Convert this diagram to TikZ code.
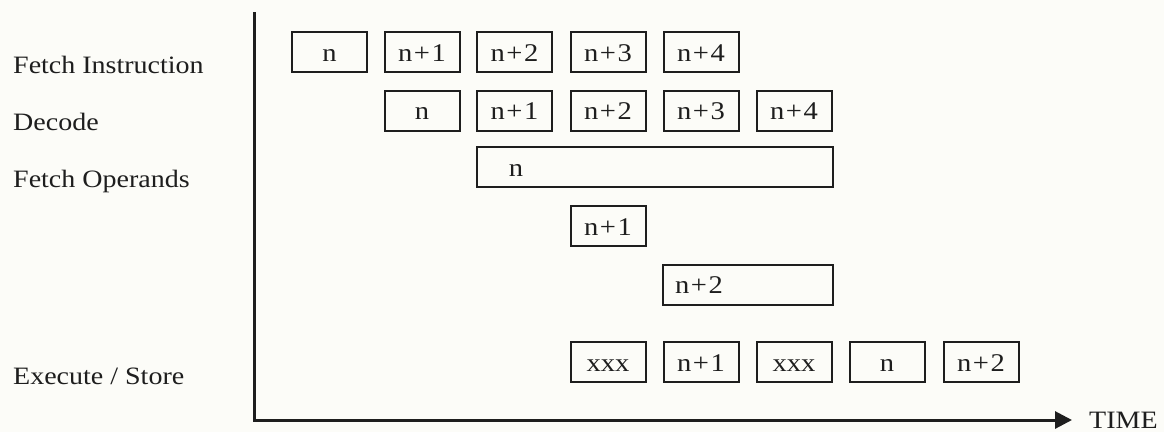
\documentclass[tikz,border=0pt]{standalone}
\usepackage{fontspec}
\setmainfont[FakeStretch=1.12]{Liberation Serif}
\usetikzlibrary{arrows.meta}
\definecolor{ink}{HTML}{1E1E1E}
\definecolor{paper}{HTML}{FCFCF8}
\newcommand{\plus}{\kern1.5pt+\kern1.5pt}
\tikzset{
  lbl/.style={anchor=base west, inner sep=0pt, text=ink, font=\fontsize{25}{28}\selectfont},
  slot/.style={draw=ink, line width=2pt, minimum width=75pt, minimum height=40pt, inner sep=0pt,
    text height=18pt, text depth=0pt, text=ink, font=\fontsize{25.5}{28}\selectfont},
  slottxt/.style={anchor=base, inner sep=0pt, text=ink, font=\fontsize{25.5}{28}\selectfont},
  axisline/.style={draw=ink, line width=3pt},
}
\begin{document}
\begin{tikzpicture}[x=1pt,y=-1pt]
\fill[paper] (0,0) rectangle (1164,432);
\useasboundingbox (0,0) rectangle (1164,432);
% stage labels
\node[lbl] (lfi) at (13,73) {Fetch Instruction};
\node[lbl] (ldc) at (13,130) {Decode};
\node[lbl] (lfo) at (13,187) {Fetch Operands};
\node[lbl] (lex) at (13,384) {Execute / Store};
% axes
\coordinate (ytop) at (254,12);
\coordinate (orig) at (254,420);
\coordinate (tip) at (1072,420);
\draw[axisline, -{Triangle[length=17pt,width=17pt]}] (ytop) -- (orig) -- (tip);
\node[lbl] (time) at (1089,428) {TIME};
% row 1: fetch instruction
\node[slot] (fi0) at (329.5,52) {n};
\node[slot] (fi1) at (422,52) {n\plus1};
\node[slot] (fi2) at (514.5,52) {n\plus2};
\node[slot] (fi3) at (608,52) {n\plus3};
\node[slot] (fi4) at (701,52) {n\plus4};
% row 2: decode
\node[slot] (dc0) at (422,110.5) {n};
\node[slot] (dc1) at (514.5,110.5) {n\plus1};
\node[slot] (dc2) at (608,110.5) {n\plus2};
\node[slot] (dc3) at (701,110.5) {n\plus3};
\node[slot] (dc4) at (794,110.5) {n\plus4};
% fetch operands
\node[slot, minimum width=356pt] (fo0) at (655,167) {};
\node[slottxt] (fo0t) at (516,176) {n};
\node[slot] (fo1) at (608,226) {n\plus1};
\node[slot, minimum width=170pt] (fo2) at (748,284.5) {};
\node[slottxt, anchor=base west] (fo2t) at (675,293.5) {n\plus2};
% execute / store
\node[slot] (ex0) at (608,362) {xxx};
\node[slot] (ex1) at (701,362) {n\plus1};
\node[slot] (ex2) at (794,362) {xxx};
\node[slot] (ex3) at (887,362) {n};
\node[slot] (ex4) at (981,362) {n\plus2};
\end{tikzpicture}
\end{document}
